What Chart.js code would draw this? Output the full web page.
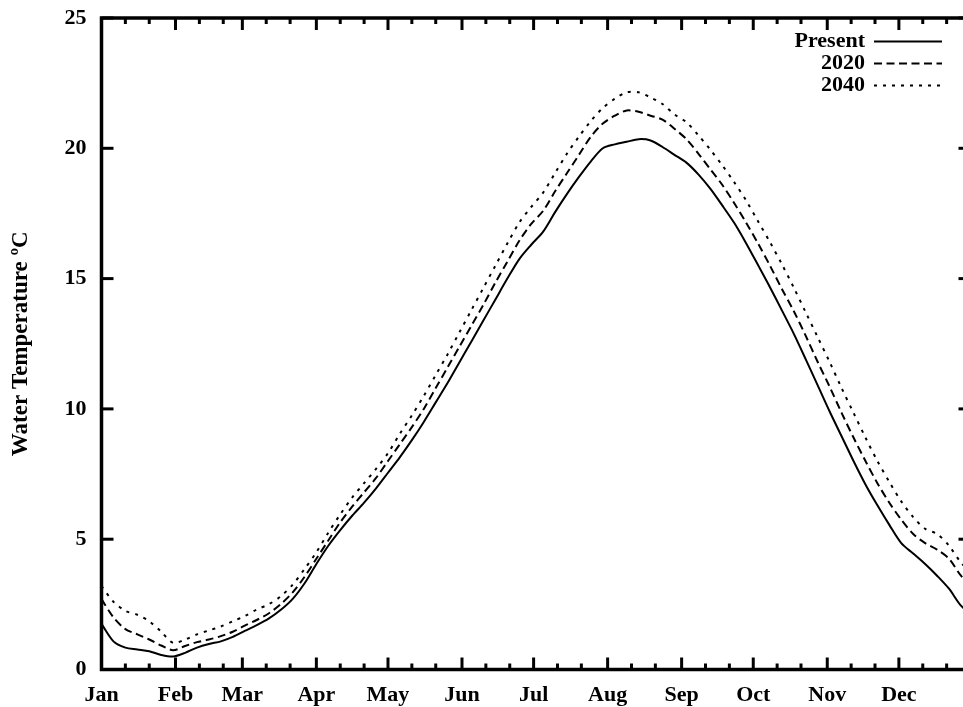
<!DOCTYPE html>
<html>
<head>
<meta charset="utf-8">
<script src="https://cdn.jsdelivr.net/npm/chart.js@4.4.1/dist/chart.umd.min.js"></script>
<style>
html,body{margin:0;padding:0;overflow:hidden;background:#fff;}
#wrap{position:absolute;left:0;top:0;width:975px;height:707px;}
</style>
</head>
<body>
<div id="wrap"><canvas id="c" width="975" height="707"></canvas></div>
<script>
// ---- data ----
const monthNames = ["Jan","Feb","Mar","Apr","May","Jun","Jul","Aug","Sep","Oct","Nov","Dec"];
const monthStarts = [0,31,59,90,120,151,181,212,243,273,304,334];
const yTickValues = [0,5,10,15,20,25];
const seriesNames = ["Present","2020","2040"];

const days = [0,5,10,15,20,25,30,35,40,45,50,55,60,65,70,75,80,85,90,95,100,105,110,115,120,125,130,135,140,145,150,155,160,165,170,175,180,185,190,195,200,205,210,215,220,225,230,235,240,245,250,255,260,265,270,275,280,285,290,295,300,305,310,315,320,325,330,335,340,345,350,355,360,364];

const present = [1.75,1.08,0.84,0.77,0.70,0.56,0.50,0.64,0.84,0.98,1.08,1.25,1.48,1.70,1.95,2.28,2.70,3.30,4.05,4.75,5.35,5.90,6.40,6.95,7.55,8.15,8.80,9.50,10.25,11.00,11.80,12.60,13.40,14.20,15.00,15.75,16.30,16.80,17.55,18.25,18.90,19.50,20.00,20.15,20.25,20.35,20.30,20.05,19.75,19.45,19.00,18.45,17.81,17.14,16.36,15.52,14.67,13.78,12.88,11.90,10.90,9.90,8.95,8.00,7.10,6.30,5.55,4.85,4.45,4.05,3.60,3.10,2.45,2.15];

const y2020 = [2.70,2.00,1.55,1.35,1.15,0.92,0.74,0.90,1.05,1.15,1.28,1.45,1.68,1.90,2.15,2.50,2.95,3.55,4.25,4.95,5.65,6.25,6.80,7.35,8.00,8.65,9.30,10.00,10.80,11.60,12.40,13.20,14.00,14.85,15.65,16.45,17.10,17.60,18.35,19.05,19.75,20.45,20.95,21.25,21.45,21.40,21.25,21.10,20.75,20.35,19.80,19.20,18.60,17.90,17.15,16.35,15.50,14.60,13.75,12.80,11.80,10.85,9.85,8.90,8.00,7.15,6.40,5.75,5.20,4.85,4.60,4.25,3.60,3.25];

const y2040 = [3.20,2.60,2.25,2.10,1.85,1.45,1.02,1.15,1.35,1.50,1.65,1.85,2.05,2.30,2.50,2.80,3.25,3.85,4.50,5.25,5.95,6.60,7.15,7.70,8.30,9.05,9.75,10.50,11.30,12.10,12.95,13.80,14.65,15.50,16.35,17.15,17.75,18.30,19.05,19.80,20.45,21.05,21.55,21.90,22.15,22.15,21.95,21.70,21.30,21.00,20.50,19.95,19.35,18.70,18.00,17.20,16.40,15.55,14.65,13.70,12.75,11.80,10.80,9.85,8.90,8.00,7.20,6.45,5.85,5.40,5.20,4.75,4.10,3.75];

// ---- styling ----
const FONT = '"Liberation Serif","Times New Roman",serif';
const dashes = [[], [8,4.5], [3,6]];
const seriesValues = [present, y2020, y2040];

const toPts = arr => days.map((d,i) => ({x:d, y:arr[i]}));

const frame = {
  id: 'frame',
  afterDatasetsDraw(chart) {
    const {ctx, chartArea:{left,right,top,bottom}, scales:{x,y}} = chart;
    ctx.save();
    ctx.strokeStyle = '#000';
    ctx.lineCap = 'butt';
    const line = (x1,y1,x2,y2,w) => { ctx.lineWidth = w; ctx.beginPath(); ctx.moveTo(x1,y1); ctx.lineTo(x2,y2); ctx.stroke(); };
    monthStarts.forEach(m => {
      const p = x.getPixelForValue(m);
      line(p,bottom,p,bottom-12,3); line(p,top,p,top+12,3);
      [10,20].forEach(o => {
        const q = x.getPixelForValue(m+o);
        line(q,bottom,q,bottom-6,3); line(q,top,q,top+6,3);
      });
    });
    yTickValues.forEach(v => {
      const p = y.getPixelForValue(v);
      line(left,p,left+12,p,3); line(right,p,right-12,p,3);
    });
    ctx.lineWidth = 3.5;
    ctx.strokeRect(left, top, right-left, bottom-top);
    // legend
    ctx.font = 'bold 22px ' + FONT;
    ctx.fillStyle = '#000';
    ctx.textAlign = 'right';
    ctx.textBaseline = 'middle';
    seriesNames.forEach((n,i) => {
      const yy = 41.5 + i*22;
      ctx.fillText(n, 865, yy);
      ctx.setLineDash(dashes[i]);
      line(874, yy, 942, yy, 2);
      ctx.setLineDash([]);
    });
    ctx.restore();
  }
};

new Chart(document.getElementById('c'), {
  type: 'line',
  data: {
    datasets: seriesNames.map((n,i) => ({
      label: n,
      data: toPts(seriesValues[i]),
      borderColor: '#000',
      borderWidth: 2,
      borderDash: dashes[i],
      pointRadius: 0,
      tension: 0.3,
      fill: false
    }))
  },
  options: {
    responsive: false,
    animation: false,
    layout: {padding: {left:0, right:4.5, top:18, bottom:0}},
    plugins: {legend:{display:false}, tooltip:{enabled:false}},
    scales: {
      x: {
        type: 'linear', min: 0, max: 364,
        afterBuildTicks: s => { s.ticks = monthStarts.map(v => ({value:v})); },
        afterFit: s => { s.height = 37.5; s.paddingLeft = 0; s.paddingRight = 0; },
        grid: {display:false, drawTicks:false},
        border: {display:false},
        ticks: {
          autoSkip:false, maxRotation:0, padding:13, color:'#000',
          font:{family:FONT, size:22, weight:'bold'},
          callback: v => monthNames[monthStarts.indexOf(v)]
        }
      },
      y: {
        min: 0, max: 25,
        afterBuildTicks: s => { s.ticks = yTickValues.map(v => ({value:v})); },
        afterFit: s => { s.width = 101.5; s.paddingTop = 0; s.paddingBottom = 0; },
        grid: {display:false, drawTicks:false},
        border: {display:false},
        ticks: {padding:15, color:'#000', font:{family:FONT, size:22, weight:'bold'}},
        title: {display:true, text:'Water Temperature ºC', color:'#000',
                font:{family:FONT, size:23, weight:'bold'}, padding:{top:7, bottom:0}}
      }
    }
  },
  plugins: [frame]
});
</script>
</body>
</html>
